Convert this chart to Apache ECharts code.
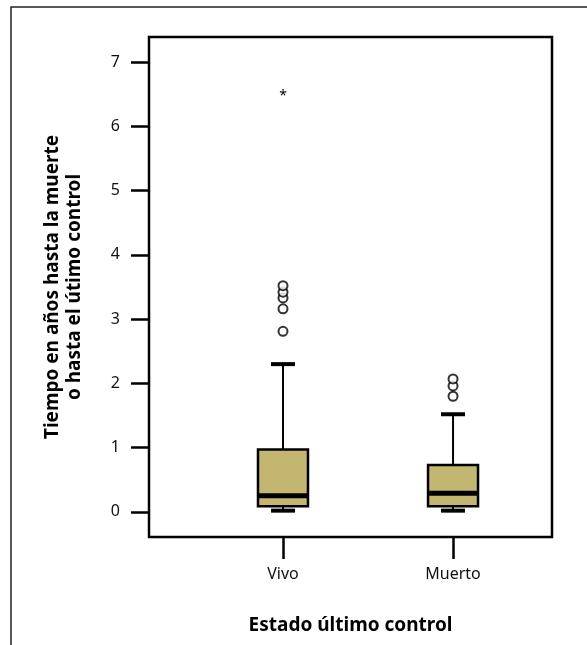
<!DOCTYPE html>
<html>
<head>
<meta charset="utf-8">
<script src="https://cdn.jsdelivr.net/npm/echarts@6/dist/echarts.min.js"></script>
<style>
  html, body { margin: 0; padding: 0; background: #fff; }
  #chart { width: 587px; height: 645px; }
</style>
</head>
<body>
<div id="chart"></div>
<script>
// categories on a numeric x scale (1 = Vivo, 2 = Muerto)
const categories = ['Vivo', 'Muerto']
const categoryPos = [1, 2]
// [min, Q1, median, Q3, max] per group
const boxStats = [
  [0.02, 0.09, 0.25, 0.97, 2.30],
  [0.02, 0.09, 0.29, 0.73, 1.52],
]
const outliersVivo = [2.81, 3.16, 3.33, 3.42, 3.52]
const outliersMuerto = [1.80, 1.96, 2.07]
const extremesVivo = [6.52]
const yTicks = [0, 1, 2, 3, 4, 5, 6, 7]

const FONT = '"Noto Sans", "Open Sans", sans-serif'
const BOX_FILL = '#c3b670'

const chart = echarts.init(document.getElementById('chart'))

const boxData = boxStats.map((s, i) => [categoryPos[i], ...s])
const outlierData = [
  ...outliersVivo.map((v) => [categoryPos[0], v]),
  ...outliersMuerto.map((v) => [categoryPos[1], v]),
]
const extremeData = extremesVivo.map((v) => [categoryPos[0], v])

const renderBox = (params, api) => {
  const x = api.value(0)
  const pMin = api.coord([x, api.value(1)])
  const pQ1 = api.coord([x, api.value(2)])
  const pMed = api.coord([x, api.value(3)])
  const pQ3 = api.coord([x, api.value(4)])
  const pMax = api.coord([x, api.value(5)])
  const cx = pMed[0]
  const half = 25
  const cap = 12
  const line = (x1, y1, x2, y2, w) => ({
    type: 'line',
    shape: { x1, y1, x2, y2 },
    style: { stroke: '#000', lineWidth: w },
  })
  return {
    type: 'group',
    children: [
      line(cx, pMax[1], cx, pQ3[1], 2),
      line(cx, pQ1[1], cx, pMin[1], 2),
      line(cx - cap, pMax[1], cx + cap, pMax[1], 4),
      line(cx - cap, pMin[1], cx + cap, pMin[1], 4),
      {
        type: 'rect',
        shape: { x: cx - half, y: pQ3[1], width: half * 2, height: pQ1[1] - pQ3[1] },
        style: { fill: BOX_FILL, stroke: '#000', lineWidth: 2.5 },
      },
      line(cx - half + 1, pMed[1], cx + half - 1, pMed[1], 5),
    ],
  }
}

const option = {
  backgroundColor: '#fff',
  animation: false,
  graphic: [
    {
      type: 'rect',
      shape: { x: 11, y: 7, width: 700, height: 700 },
      style: { fill: 'none', stroke: '#222', lineWidth: 1.5 },
      z: -1,
    },
  ],
  grid: {
    left: 149,
    top: 37,
    right: 35,
    bottom: 108,
    show: true,
    borderColor: '#000',
    borderWidth: 2.5,
    backgroundColor: 'transparent',
  },
  xAxis: {
    type: 'value',
    min: 0.212,
    max: 2.582,
    splitLine: { show: false },
    axisLine: { show: false, onZero: false },
    axisTick: {
      show: true,
      inside: false,
      length: 22,
      customValues: categoryPos,
      lineStyle: { color: '#000', width: 2.5 },
    },
    axisLabel: {
      customValues: categoryPos,
      formatter: (v) => categories[categoryPos.indexOf(v)] || '',
      margin: 29,
      color: '#111',
      fontSize: 16,
      fontFamily: FONT,
    },
    name: 'Estado último control',
    nameLocation: 'middle',
    nameGap: 79,
    nameTextStyle: {
      color: '#000',
      fontSize: 19,
      fontWeight: 'bold',
      fontFamily: FONT,
    },
  },
  yAxis: {
    type: 'value',
    min: -0.39,
    max: 7.39,
    splitLine: { show: false },
    axisLine: { show: false, onZero: false },
    axisTick: {
      show: true,
      inside: false,
      length: 18,
      customValues: yTicks,
      lineStyle: { color: '#000', width: 2.5 },
    },
    axisLabel: {
      customValues: yTicks,
      margin: 29,
      color: '#111',
      fontSize: 16,
      fontFamily: FONT,
    },
    name: 'Tiempo en años hasta la muerte\no hasta el útimo control',
    nameLocation: 'middle',
    nameGap: 63,
    nameTextStyle: {
      color: '#000',
      fontSize: 19,
      fontWeight: 'bold',
      lineHeight: 22,
      fontFamily: FONT,
    },
  },
  series: [
    {
      type: 'custom',
      renderItem: renderBox,
      data: boxData,
      encode: { x: 0, y: [1, 2, 3, 4, 5] },
      z: 2,
    },
    {
      type: 'scatter',
      data: outlierData,
      symbol: 'circle',
      symbolSize: 9,
      itemStyle: { color: '#fff', borderColor: '#000', borderWidth: 2 },
      z: 3,
    },
    {
      type: 'custom',
      data: extremeData,
      renderItem: (params, api) => {
        const p = api.coord([api.value(0), api.value(1)])
        return {
          type: 'text',
          style: {
            text: '*',
            x: p[0],
            y: p[1] + 3,
            align: 'center',
            verticalAlign: 'middle',
            fill: '#000',
            font: '14px ' + FONT,
          },
        }
      },
      z: 3,
    },
  ],
}

chart.setOption(option)
</script>
</body>
</html>
